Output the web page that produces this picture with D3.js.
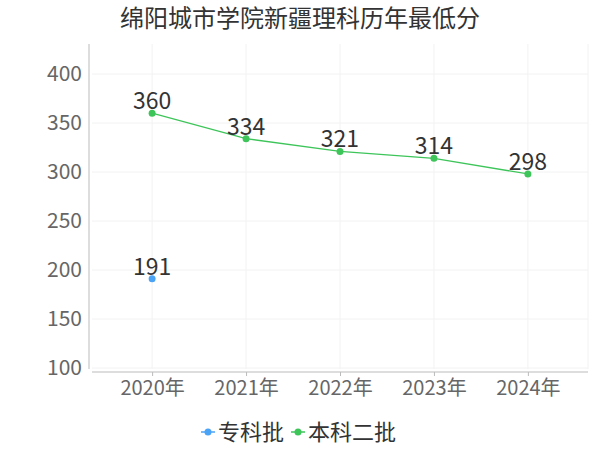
<!DOCTYPE html>
<html>
<head>
<meta charset="utf-8">
<script src="https://cdn.jsdelivr.net/npm/d3@7"></script>
<style>
  body { margin: 0; background: #fff; }
  svg { font-family: "Noto Sans CJK SC", "Noto Sans", sans-serif; }
</style>
</head>
<body>
<svg id="chart" width="600" height="450"></svg>
<script>
const years = ["2020年", "2021年", "2022年", "2023年", "2024年"]
const zhuanke = [191, null, null, null, null]
const benke2 = [360, 334, 321, 314, 298]
const yTicks = [100, 150, 200, 250, 300, 350, 400]

const seriesList = [
  { name: "专科批", values: zhuanke, color: "#4ba3f5" },
  { name: "本科二批", values: benke2, color: "#3ec55a" }
]

const svg = d3.select("#chart")

// scales
const x = d3.scalePoint()
  .domain(years)
  .range([92, 588])
  .padding(0.64)

const y = d3.scaleLinear()
  .domain([100, 400])
  .range([368, 74])

// grid
svg.append("g")
  .selectAll("line")
  .data(yTicks)
  .join("line")
  .attr("x1", 92).attr("x2", 588)
  .attr("y1", d => y(d)).attr("y2", d => y(d))
  .attr("stroke", "#f2f2f2")

svg.append("g")
  .selectAll("line")
  .data(years)
  .join("line")
  .attr("x1", d => x(d)).attr("x2", d => x(d))
  .attr("y1", 44).attr("y2", 369)
  .attr("stroke", "#f2f2f2")

svg.append("line")
  .attr("x1", 588).attr("x2", 588).attr("y1", 44).attr("y2", 369)
  .attr("stroke", "#f2f2f2")

// y axis
const yAxis = svg.append("g")
  .attr("transform", "translate(89,0)")
  .call(d3.axisLeft(y).tickValues(yTicks).tickSize(0).tickPadding(7))
yAxis.select(".domain").attr("stroke", "#bbb").attr("d", "M0,44V369")
yAxis.selectAll("text").attr("fill", "#666").attr("font-size", 21)
  .attr("font-family", "'Noto Sans CJK SC', sans-serif")

// x axis
const xAxis = svg.append("g")
  .attr("transform", "translate(0,372)")
  .call(d3.axisBottom(x).tickSize(4).tickPadding(5).tickSizeOuter(0))
xAxis.select(".domain").attr("stroke", "#bbb").attr("d", "M92,0H588")
xAxis.selectAll(".tick line").attr("stroke", "#bbb")
xAxis.selectAll("text").attr("fill", "#666").attr("font-size", 20)
  .attr("font-family", "'Noto Sans CJK SC', sans-serif")

// lines and points
seriesList.forEach(s => {
  const pts = years.map((yr, i) => ({ yr, v: s.values[i] })).filter(d => d.v != null)
  const line = d3.line().x(d => x(d.yr)).y(d => y(d.v))
  svg.append("path")
    .datum(pts)
    .attr("d", line)
    .attr("fill", "none")
    .attr("stroke", s.color)
    .attr("stroke-width", 1.3)
  svg.append("g")
    .selectAll("circle")
    .data(pts)
    .join("circle")
    .attr("cx", d => x(d.yr))
    .attr("cy", d => y(d.v))
    .attr("r", 3.5)
    .attr("fill", s.color)
  svg.append("g")
    .selectAll("text")
    .data(pts)
    .join("text")
    .attr("x", d => x(d.yr))
    .attr("y", d => y(d.v) - 4)
    .attr("text-anchor", "middle")
    .attr("fill", "#333")
    .attr("font-size", 23)
    .text(d => d.v)
})

// title
svg.append("text")
  .attr("x", 300).attr("y", 27)
  .attr("text-anchor", "middle")
  .attr("fill", "#333")
  .attr("font-size", 24)
  .text("绵阳城市学院新疆理科历年最低分")

// legend
const legend = svg.append("g").attr("transform", "translate(0,432)")
const legendX = [201, 291]
seriesList.forEach((s, i) => {
  const g = legend.append("g").attr("transform", `translate(${legendX[i]},0)`)
  g.append("line").attr("x1", 0).attr("x2", 14).attr("stroke", s.color).attr("stroke-width", 1.5)
  g.append("circle").attr("cx", 7).attr("r", 3.5).attr("fill", s.color)
  g.append("text").attr("x", 17).attr("y", 8)
    .attr("fill", "#333").attr("font-size", 22)
    .text(s.name)
})
</script>
</body>
</html>
